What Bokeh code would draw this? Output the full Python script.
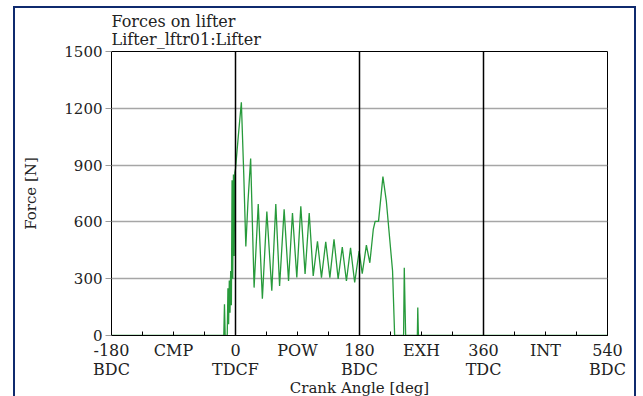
from bokeh.plotting import figure
from bokeh.models import FixedTicker, Span, ColumnDataSource
from bokeh.embed import file_html
from bokeh.resources import INLINE

# ---- data ----
crank_angle = [-180, -20, -17, -16, -15, -12, -11, -10, -9, -8, -7, -6, -5, -4, -3, -2, -1,
               0, 4, 8.5, 12, 15, 18, 22, 27, 33, 39, 45.5, 52.7, 58.5, 64, 70.6, 77,
               82.7, 89, 94.8, 101, 107, 112.8, 119, 124.8, 131, 137, 143, 149, 155,
               161, 167, 173, 179.5, 184, 190, 195, 200, 202.7, 207.6, 214, 219, 228,
               231, 244, 245, 246, 247, 264, 264.6, 265.5, 540]
force = [0, 0, 0, 165, 0, 0, 250, 60, 290, 120, 340, 160, 820, 300, 850, 420, 860,
         880, 1050, 1232, 850, 470, 700, 935, 253, 694, 194, 655, 236, 694, 262, 666, 288,
         647, 306, 682, 325, 647, 315, 498, 306, 495, 306, 508, 299, 467,
         288, 463, 280, 446, 327, 477, 384, 560, 603, 603, 839, 708, 341,
         0, 0, 358, 170, 0, 0, 148, 0, 0]

y_ticks = [0, 300, 600, 900, 1200, 1500]
grid_y = [300, 600, 900, 1200]
x_ticks = [-180, -90, 0, 90, 180, 270, 360, 450, 540]
x_tick_labels = ["-180\nBDC", "CMP", "0\nTDCF", "POW", "180\nBDC", "EXH", "360\nTDC", "INT", "540\nBDC"]
x_minor = [-180, -135, -90, -45, 0, 45, 90, 135, 180, 225, 270, 315, 360, 405, 450, 495, 540]
dead_centres = [0, 180, 360]

title_text = "Forces on lifter\nLifter_lftr01:Lifter"
FONT = "DejaVu Serif"

p = figure(width=623, height=392, x_range=(-180, 540), y_range=(0, 1500),
           output_backend="svg", toolbar_location=None,
           min_border_left=96, min_border_right=31, min_border_top=41, min_border_bottom=61,
           title=title_text)
p.margin = (6, 0, 0, 13)
p.styles = {"border": "2px solid #0f2a6e"}
p.background_fill_color = "white"
p.border_fill_color = "white"
p.outline_line_color = "black"
p.outline_line_width = 1

p.title.text_font = FONT
p.title.text_font_size = "16px"
p.title.text_font_style = "normal"
p.title.text_line_height = 0.95
p.title.align = "left"
p.title.standoff = 4
p.title.text_color = "#222222"

src = ColumnDataSource(dict(x=crank_angle, y=force))
p.line("x", "y", source=src, line_color="#279a3b", line_width=1.3)

for v in dead_centres:
    p.add_layout(Span(location=v, dimension="height", line_color="black", line_width=1.5))

p.xgrid.visible = False
p.ygrid.ticker = FixedTicker(ticks=grid_y)
p.ygrid.grid_line_color = "#a6a6a6"
p.ygrid.grid_line_width = 1.5

xa = p.xaxis[0]
xa.ticker = FixedTicker(ticks=x_ticks, minor_ticks=x_minor)
xa.major_label_overrides = {t: l for t, l in zip(x_ticks, x_tick_labels)}
xa.major_tick_in = 0
xa.major_tick_out = 0
xa.minor_tick_in = 4
xa.minor_tick_out = 0
xa.minor_tick_line_color = "black"
xa.axis_line_color = "black"
xa.major_label_standoff = 5
xa.major_label_text_line_height = 1.05
xa.axis_label = "Crank Angle [deg]"
xa.axis_label_standoff = -3
xa.major_label_text_font_size = "16px"
xa.axis_label_text_font_size = "15px"

ya = p.yaxis[0]
ya.ticker = FixedTicker(ticks=y_ticks)
ya.major_tick_in = 0
ya.major_tick_out = 6
ya.major_tick_line_color = "#9a9a9a"
ya.minor_tick_in = 0
ya.minor_tick_out = 0
ya.axis_line_color = "black"
ya.major_label_standoff = 3
ya.axis_label = "Force [N]"
ya.axis_label_standoff = 21
ya.major_label_text_font_size = "15px"
ya.axis_label_text_font_size = "15px"

for ax in (xa, ya):
    ax.major_label_text_font = FONT
    ax.major_label_text_color = "#222222"
    ax.axis_label_text_font = FONT
    ax.axis_label_text_font_style = "normal"
    ax.axis_label_text_color = "#222222"

open("out.html", "w").write(file_html(p, INLINE))
